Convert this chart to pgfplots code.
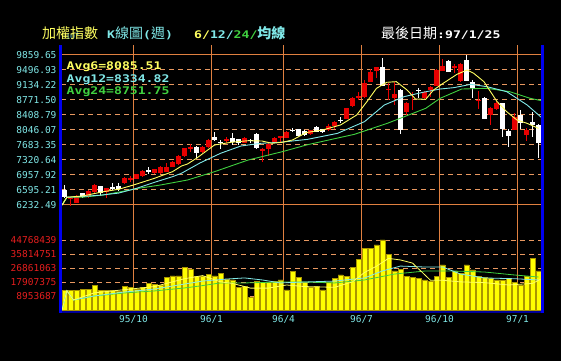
\documentclass[border=0pt]{standalone}
\usepackage{fontspec}
\usepackage{pgfplots}
\pgfplotsset{compat=1.18}
\usepackage{pgfplotstable}
\setmainfont{DejaVu Sans}
\newfontfamily\monof{DejaVu Sans Mono}
\newfontfamily\monob[FakeStretch=1.25]{DejaVu Sans Mono}
\newfontfamily\cjk{Noto Sans CJK TC}
\definecolor{gridor}{RGB}{224,128,64}
\definecolor{gridd}{RGB}{232,152,96}
\definecolor{lcyan}{RGB}{128,232,232}
\definecolor{cred}{RGB}{232,0,0}
\definecolor{vred}{RGB}{230,30,30}
\definecolor{avy}{RGB}{255,255,96}
\definecolor{avc}{RGB}{128,232,232}
\definecolor{avg}{RGB}{64,208,64}
\definecolor{byel}{RGB}{255,255,0}
\definecolor{bedge}{RGB}{170,150,0}
\definecolor{bblue}{RGB}{0,0,240}
\definecolor{dblue}{RGB}{0,0,150}

% red (up) candles: week index, open, high, low, close
\pgfplotstableread{
x o h l c
1 6385 6420 6215 6410
2 6288 6475 6280 6450
4 6433 6590 6394 6578
5 6539 6740 6530 6716
7 6554 6650 6394 6636
10 6757 6900 6740 6893
11 6860 6930 6796 6870
12 6862 6990 6850 6982
13 6934 7070 6920 7055
15 6999 7110 6990 7096
16 6999 7170 6990 7160
17 7030 7241 7020 7160
18 7160 7304 7150 7265
19 7224 7430 7200 7417
20 7417 7620 7400 7604
21 7605 7708 7521 7625
23 7521 7660 7500 7642
24 7628 7820 7610 7804
27 7800 7870 7725 7815
30 7740 7870 7720 7860
33 7560 7604 7280 7580
34 7580 7720 7420 7706
35 7749 7870 7740 7845
36 7880 7900 7740 7890
37 7860 8020 7850 8005
41 7941 8050 7930 8038
44 8038 8200 8030 8151
45 8143 8270 8070 8248
47 8312 8580 8300 8570
48 8626 8852 8600 8812
49 8850 8957 8771 8860
50 8852 9255 8828 9183
51 9215 9520 9199 9457
52 9481 9578 9312 9578
54 9020 9174 8771 9040
55 8812 9215 8650 8917
57 8473 8730 8409 8691
58 8900 8957 8530 8915
60 8828 8990 8800 8973
61 9013 9100 8852 9094
62 9118 9510 9100 9497
63 9481 9763 9470 9594
65 9570 9650 9417 9580
66 9231 9660 9215 9634
69 8760 8989 8554 8780
71 8409 8610 8167 8586
72 8554 8747 8530 8691
75 8046 8449 8040 8369
77 7925 8090 7780 8046
}\upc

% white (down) candles
\pgfplotstableread{
x o h l c
0 6595 6709 6402 6419
3 6515 6530 6405 6419
6 6692 6700 6450 6515
8 6660 6757 6595 6650
9 6692 6772 6571 6628
14 7078 7144 6982 7038
22 7642 7650 7362 7500
25 7884 8005 7785 7804
26 7760 7804 7580 7750
28 7845 7966 7680 7763
29 7820 7830 7690 7740
31 7800 7830 7740 7790
32 7942 7966 7580 7604
38 8050 8090 7990 8040
39 8063 8070 7900 7908
40 8025 8040 7900 7915
42 8127 8140 7990 8006
43 8070 8080 7980 7990
46 8290 8370 8210 8280
53 9578 9779 9110 9118
56 9013 9030 7949 8046
59 9020 9070 8812 9000
64 9723 9740 9440 9457
67 9739 9860 9231 9231
68 9215 9255 8828 9054
70 8812 8852 8312 8312
73 8691 8700 7885 8070
74 8022 8070 7643 7909
76 8409 8530 8070 8207
78 8247 8489 7885 8167
79 8167 8180 7362 7724
}\downc

% weekly volume (millions of shares)
\pgfplotstableread{
x v
0 12.4
1 12.4
2 12.4
3 13.2
4 13.2
5 15.8
6 12.4
7 12.4
8 12.4
9 11.7
10 14.9
11 14.3
12 13.2
13 14.3
14 17.1
15 16.5
16 15.6
17 20.7
18 21.9
19 21.9
20 27.1
21 26.0
22 21.3
23 21.3
24 22.8
25 21.9
26 23.5
27 19.6
28 19.2
29 14.3
30 14.9
31 8.1
32 18.5
33 17.5
34 17.7
35 18.1
36 19.2
37 12.8
38 24.9
39 20.9
40 17.7
41 14.5
42 14.9
43 12.8
44 17.5
45 20.3
46 22.4
47 21.7
48 27.3
49 32.4
50 39.4
51 39.4
52 41.6
53 44.77
54 35.6
55 25.1
56 26.0
57 21.3
58 20.9
59 20.3
60 19.2
61 18.5
62 21.3
63 28.8
64 20.9
65 24.5
66 23.5
67 28.8
68 25.6
69 21.7
70 20.9
71 20.3
72 19.2
73 19.2
74 20.3
75 17.5
76 15.8
77 21.7
78 33.0
79 25.1
}\vol

\pgfplotsset{
  kgrid/.style={
    scale only axis, width=481pt,
    xmin=-0.5833, xmax=79.5833,
    axis line style={draw=none}, major tick length=0pt, tick style={draw=none},
    xmajorgrids=false, ymajorgrids,
    grid style={color=gridd, line width=1pt},
    major grid style={dash pattern=on 5pt off 4pt},
  }
}

\begin{document}
\begin{tikzpicture}[x=1pt,y=1pt]
\fill[black] (0,0) rectangle (561,361);

% ---------- price panel ----------
\begin{axis}[
  kgrid,
  at={(61pt,136pt)}, anchor=south west, height=180pt,
  ymin=5748.8, ymax=10101.46,
  xtick=\empty,
  ytick={6232.49,6595.21,6957.92,7320.64,7683.35,8046.07,8408.79,8771.50,9134.22,9496.93,9859.65},
  yticklabels={6232.49,6595.21,6957.92,7320.64,7683.35,8046.07,8408.79,8771.50,9134.22,9496.93,9859.65},
  yticklabel style={font=\fontsize{9.5}{10}\monof, text=lcyan, xshift=-1pt},
]
% quarter separators and solid top/bottom rules
\addplot[ycomb, draw=gridor, line width=1pt, mark=none, forget plot] coordinates {
(11.5,10101.46) (24.5,10101.46) (36.5,10101.46) (49.5,10101.46) (62.5,10101.46) (75.5,10101.46)};
\addplot[draw=gridor, line width=1pt, mark=none, forget plot] coordinates {(-0.5833,9859.65) (79.5833,9859.65)};
\addplot[draw=gridor, line width=1pt, mark=none, forget plot] coordinates {(-0.5833,6232.49) (79.5833,6232.49)};
% wicks
\addplot[draw=none, mark=none, forget plot, error bars/.cd, y dir=both, y explicit, error mark=none,
  error bar style={draw=cred, solid, line width=1pt}]
  table[x=x, y expr={(\thisrow{h}+\thisrow{l})/2}, y error expr={(\thisrow{h}-\thisrow{l})/2}] {\upc};
\addplot[draw=none, mark=none, forget plot, error bars/.cd, y dir=both, y explicit, error mark=none,
  error bar style={draw=white, solid, line width=1pt}]
  table[x=x, y expr={(\thisrow{h}+\thisrow{l})/2}, y error expr={(\thisrow{h}-\thisrow{l})/2}] {\downc};
% bodies
\addplot[draw=none, mark=none, forget plot, error bars/.cd, y dir=both, y explicit, error mark=none,
  error bar style={draw=cred, solid, line width=4.7pt}]
  table[x=x, y expr={(\thisrow{o}+\thisrow{c})/2}, y error expr={max(abs(\thisrow{o}-\thisrow{c})/2,12)}] {\upc};
\addplot[draw=none, mark=none, forget plot, error bars/.cd, y dir=both, y explicit, error mark=none,
  error bar style={draw=white, solid, line width=4.7pt}]
  table[x=x, y expr={(\thisrow{o}+\thisrow{c})/2}, y error expr={max(abs(\thisrow{o}-\thisrow{c})/2,12)}] {\downc};
% moving averages
\addplot[avg, line width=0.9pt, mark=none] coordinates {
(-0.4,6232) (0.4,6420) (3,6420) (6.5,6475) (10,6571) (12.3,6636) (16,6716) (20.5,6837)
(25,7038) (30.6,7320) (36.3,7522) (40.5,7690) (48.3,7941) (53.8,8207) (60.2,8570)
(62.6,8812) (66.2,9037) (70.4,9054) (74.2,8973) (77.6,8812) (79.6,8752)};
\addplot[avc, line width=0.9pt, mark=none] coordinates {
(-0.4,6232) (0.4,6420) (3,6440) (6,6470) (9,6520) (12,6635) (15,6781) (18,6917)
(19.5,7000) (22.6,7250) (26,7482) (29.4,7659) (32.7,7724) (36,7749) (40.5,7820)
(45.5,7965) (50,8248) (53.3,8651) (56.6,8852) (59.5,8950) (62.6,9037) (64.9,9070)
(67.7,9150) (70.4,9094) (73.7,8973) (77.1,8651) (79.6,8335)};
\addplot[avy, line width=0.9pt, mark=none] coordinates {
(-0.4,6232) (0.4,6420) (3,6450) (6.5,6554) (9,6612) (11.5,6716) (15,6878) (18,7038)
(19.5,7175) (20.5,7224) (22,7362) (25,7683) (27.8,7749) (30.6,7787) (32.9,7780)
(34.6,7724) (36.3,7749) (38,7804) (40.3,7985) (43,8046) (46,8167) (48.7,8409)
(50.4,8731) (52,9054) (53.7,9199) (55.3,9215) (57.1,9013) (58.5,8796) (60.2,8788)
(61.5,9013) (63.1,9174) (65.4,9392) (67.1,9497) (68.2,9417) (69.9,9215) (72.1,8731)
(73.7,8489) (75.4,8288) (77.1,8207) (79,8085)};
\end{axis}

% ---------- volume panel ----------
\begin{axis}[
  kgrid,
  at={(61pt,51pt)}, anchor=south west, height=85pt,
  ymin=0, ymax=54.3617,
  xtick={11.5,24.5,36.5,49.5,62.5,75.5},
  xticklabels={95/10,96/1,96/4,96/7,96/10,97/1},
  ytick={8.953687,17.907375,26.861063,35.814751,44.768439},
  yticklabels={8953687,17907375,26861063,35814751,44768439},
  yticklabel style={font=\fontsize{9.5}{10}\monof, text=vred, xshift=-1pt},
  xticklabel style={font=\fontsize{9.5}{10}\monof, text=lcyan, yshift=-2pt},
]
\addplot[ycomb, draw=gridor, line width=1pt, mark=none, forget plot] coordinates {
(11.5,54.3617) (24.5,54.3617) (36.5,54.3617) (49.5,54.3617) (62.5,54.3617) (75.5,54.3617)};
\addplot[ybar, bar width=4.7pt, fill=byel, draw=bedge, line width=0.5pt] table[x=x, y=v] {\vol};
\addplot[avg, line width=0.8pt, mark=none] coordinates {
(-0.4,0) (0.4,12.3) (1.5,6.4) (5,9.0) (10,10.9) (15,12.2) (20,14.1) (23,15.6) (26,17.3)
(30,17.3) (36,17.9) (40,17.9) (45,17.3) (50,19.2) (55,23.0) (60,24.9) (65,24.9)
(70,24.3) (75,22.4) (79,21.1)};
\addplot[avc, line width=0.8pt, mark=none] coordinates {
(-0.4,0) (0.4,12.3) (1.5,6.4) (5,9) (10,11.5) (15,13.4) (20,16.6) (23,18.5) (27,19.8)
(30,20.5) (33,19.2) (36,17.3) (40,17.9) (45,18.5) (50,20.5) (53,25) (56,28.1) (60,27.5)
(63,27.5) (66,23.0) (70,20.5) (75,20.0) (79,19.2)};
\addplot[avy, line width=0.8pt, mark=none] coordinates {
(-0.4,0) (0.4,12.3) (1.5,6.4) (5,11) (10,13) (15,15) (20,20) (23,22) (26,18) (28,17)
(31,14) (34,14) (37,16) (40,15) (45,14.5) (48,18) (50,24) (52,28) (54,33) (56,32)
(58,30) (61,19) (63,19) (66,18) (70,17.5) (74,16) (78,17) (79.5,20)};
\end{axis}

% ---------- frame ----------
\draw[dblue, line width=2.6pt] (59.5,49) -- (543.5,49);
\draw[bblue, line width=3pt] (60.8,316) -- (60.8,48);
\draw[bblue, line width=3pt] (542.5,316) -- (542.5,48);

% ---------- titles ----------
\node[anchor=base west, inner sep=0] at (42,322)
  {\cjk\fontsize{14}{14}\selectfont\color{avy}加權指數};
\node[anchor=base west, inner sep=0] at (107,322)
  {\color{lcyan}{\monob\bfseries\fontsize{10.5}{12}\selectfont K}{\cjk\fontsize{14}{14}\selectfont 線圖}{\monob\bfseries\fontsize{10.5}{12}\selectfont(}{\cjk\fontsize{14}{14}\selectfont 週}{\monob\bfseries\fontsize{10.5}{12}\selectfont)}};
\node[anchor=base west, inner sep=0] at (194,322)
  {\monob\bfseries\fontsize{10.5}{12}\selectfont{\color{avy}6/}{\color{lcyan}12/}{\color{avg}24/}{\cjk\fontsize{14}{14}\selectfont\color{lcyan}均線}};
\node[anchor=base west, inner sep=0] at (381,322)
  {\color{white}{\cjk\fontsize{14}{14}\selectfont 最後日期}{\monob\bfseries\fontsize{10.5}{12}\selectfont:97/1/25}};

% ---------- average readouts ----------
\node[anchor=west, inner sep=0] at (66.5,294.3)
  {\monob\bfseries\fontsize{10.5}{12}\selectfont\color{avy}Avg6=8085.51};
\node[anchor=west, inner sep=0] at (66.5,281.7)
  {\monob\bfseries\fontsize{10.5}{12}\selectfont\color{avc}Avg12=8334.82};
\node[anchor=west, inner sep=0] at (66.5,269.3)
  {\monob\bfseries\fontsize{10.5}{12}\selectfont\color{avg}Avg24=8751.75};

\pgfresetboundingbox
\useasboundingbox (0,0) rectangle (561,361);
\end{tikzpicture}
\end{document}
